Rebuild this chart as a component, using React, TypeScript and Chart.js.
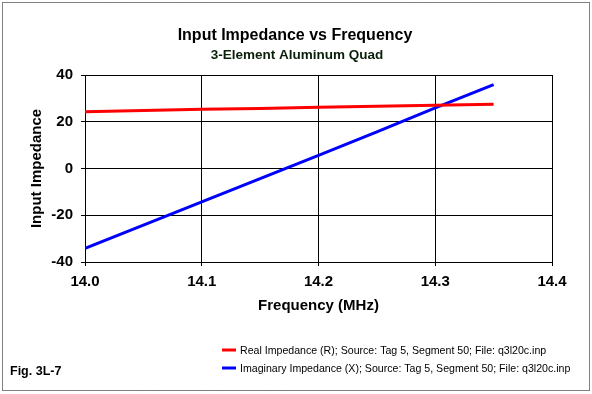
import React, { useEffect, useRef } from "react";
import { Chart, registerables } from "chart.js";

Chart.register(...registerables);

const frequencies = [14.0, 14.05, 14.1, 14.15, 14.2, 14.25, 14.3, 14.35];
const realImpedance = [24.3, 24.8, 25.3, 25.7, 26.2, 26.6, 27.1, 27.5];
const imagImpedance = [-34.2, -24.2, -14.3, -4.3, 5.6, 15.7, 25.9, 35.9];

const titleText = "Input Impedance vs Frequency";
const subtitleText = "3-Element Aluminum Quad";
const xTitle = "Frequency (MHz)";
const yTitle = "Input Impedance";
const figLabel = "Fig. 3L-7";
const seriesNames = [
  "Real Impedance (R); Source: Tag 5, Segment 50; File: q3l20c.inp",
  "Imaginary Impedance (X); Source: Tag 5, Segment 50; File: q3l20c.inp",
];
const seriesColors = ["#FF0000", "#0000FF"];

const FONT = "Arial, 'Liberation Sans', sans-serif";

const decorPlugin = {
  id: "decor",
  afterDraw(chart: any) {
    const ctx = chart.ctx;
    const area = chart.chartArea;
    ctx.save();
    // border
    ctx.strokeStyle = "#000";
    ctx.lineWidth = 1;
    ctx.setLineDash([1, 1]);
    ctx.strokeRect(2.5, 2.5, 587, 388);
    ctx.setLineDash([]);
    // titles
    ctx.fillStyle = "#000";
    ctx.textAlign = "center";
    ctx.textBaseline = "alphabetic";
    ctx.font = `bold 16px ${FONT}`;
    ctx.fillText(titleText, 295, 40);
    ctx.fillStyle = "#0a1f0a";
    ctx.font = `bold 13.5px ${FONT}`;
    ctx.fillText(subtitleText, 297, 59);
    // axis titles
    ctx.fillStyle = "#000";
    ctx.font = `bold 15px ${FONT}`;
    ctx.fillText(xTitle, (area.left + area.right) / 2, 310);
    ctx.save();
    ctx.translate(41, (area.top + area.bottom) / 2);
    ctx.rotate(-Math.PI / 2);
    ctx.fillText(yTitle, 0, 0);
    ctx.restore();
    // legend
    ctx.textAlign = "left";
    ctx.font = `10.6px ${FONT}`;
    const ys = [350, 368];
    seriesNames.forEach((name, i) => {
      ctx.strokeStyle = seriesColors[i];
      ctx.lineWidth = 3;
      ctx.beginPath();
      ctx.moveTo(222, ys[i]);
      ctx.lineTo(236, ys[i]);
      ctx.stroke();
      ctx.fillStyle = "#000";
      ctx.fillText(name, 240, ys[i] + 4);
    });
    // fig label
    ctx.font = `bold 12.5px ${FONT}`;
    ctx.fillText(figLabel, 10, 375);
    ctx.restore();
  },
};

export default function App() {
  const ref = useRef<HTMLCanvasElement | null>(null);
  useEffect(() => {
    document.body.style.margin = "0";
    const canvas = ref.current;
    if (!canvas) return;
    const chart = new Chart(canvas, {
      type: "line",
      data: {
        datasets: [
          {
            label: seriesNames[0],
            data: frequencies.map((f, i) => ({ x: f, y: realImpedance[i] })),
            borderColor: seriesColors[0],
            backgroundColor: seriesColors[0],
            borderWidth: 3,
            pointRadius: 0,
            tension: 0,
          },
          {
            label: seriesNames[1],
            data: frequencies.map((f, i) => ({ x: f, y: imagImpedance[i] })),
            borderColor: seriesColors[1],
            backgroundColor: seriesColors[1],
            borderWidth: 3,
            pointRadius: 0,
            tension: 0,
          },
        ],
      },
      options: {
        animation: false,
        responsive: false,
        devicePixelRatio: 1,
        layout: { padding: { top: 75, left: 0, right: 40, bottom: 82 } },
        plugins: {
          legend: { display: false },
          title: { display: false },
          tooltip: { enabled: false },
        },
        scales: {
          x: {
            type: "linear",
            min: 14.0,
            max: 14.4,
            afterFit: (s: any) => {
              s.height = 50;
            },
            ticks: {
              stepSize: 0.1,
              color: "#000",
              padding: 7,
              font: { family: FONT, size: 15, weight: "bold" },
              callback: (v: any) => Number(v).toFixed(1),
            },
            grid: { color: "#000", lineWidth: 1, tickLength: 4, drawTicks: true },
            border: { color: "#000", width: 1 },
          },
          y: {
            type: "linear",
            min: -40,
            max: 40,
            afterFit: (s: any) => {
              s.width = 85;
            },
            ticks: {
              stepSize: 20,
              color: "#000",
              padding: 8,
              font: { family: FONT, size: 15, weight: "bold" },
            },
            grid: { color: "#000", lineWidth: 1, tickLength: 4, drawTicks: true },
            border: { color: "#000", width: 1 },
          },
        },
      },
      plugins: [decorPlugin],
    });
    return () => chart.destroy();
  }, []);
  return (
    <div style={{ position: "absolute", left: 0, top: 0, width: 592, height: 394, background: "#fff" }}>
      <canvas ref={ref} width={592} height={394} style={{ width: 592, height: 394 }} />
    </div>
  );
}
